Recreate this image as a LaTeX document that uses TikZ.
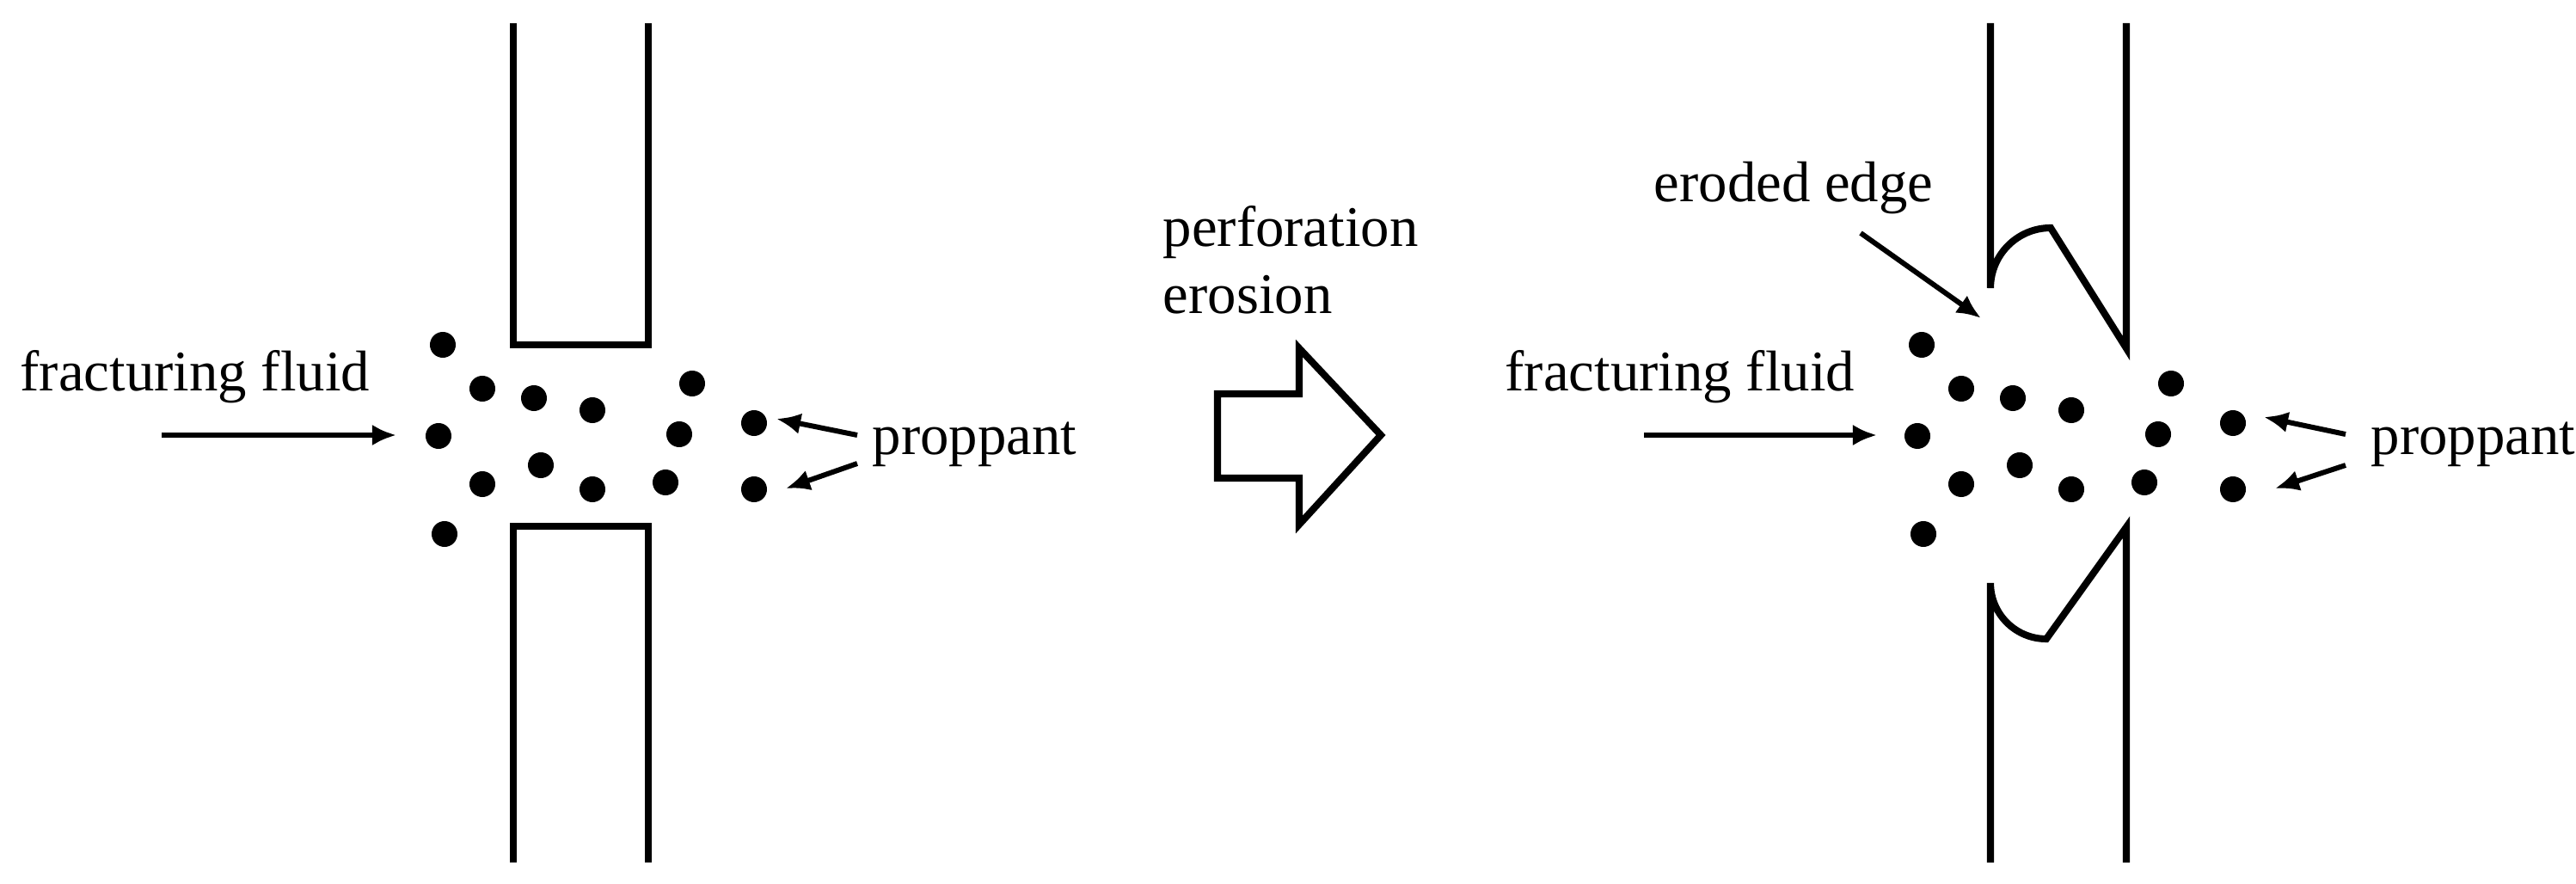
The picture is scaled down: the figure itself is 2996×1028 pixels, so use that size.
\documentclass[tikz,border=0pt]{standalone}
\usepackage{fontspec}
\setmainfont{Liberation Serif}
\usetikzlibrary{arrows.meta}
\begin{document}
\begin{tikzpicture}[x=0.01cm,y=-0.01cm,
  wall/.style={line width=2.3pt,line join=miter},
  pdot/.style={circle,fill=black,inner sep=0pt,minimum size=0.30cm},
  lbl/.style={anchor=base west,inner sep=0pt,font=\fontsize{19}{23}\selectfont},
  arr/.style={line width=1.7pt,-{Latex[length=8pt,width=7pt]}}]
\useasboundingbox (0,0) rectangle (2996,1028);
% left pipe
\draw[wall] (597,27) -- (597,401) -- (754,401) -- (754,27);
\draw[wall] (597,1003) -- (597,612) -- (754,612) -- (754,1003);
% right pipe (eroded)
\draw[wall] (2315,27) -- (2315,335) arc[start angle=180,end angle=270,radius=70] -- (2473,405) -- (2473,27);
\draw[wall] (2315,1003) -- (2315,678) arc[start angle=180,end angle=90,radius=65] -- (2473,613) -- (2473,1003);
% dots
\foreach \dx/\p in {0/a,1720/b}{
  \foreach \x/\y [count=\i] in {515/401,561/452,621/463,689/477,805/446,510/507,790/505,877/492,561/563,629/541,689/569,774/561,877/569,517/621}
    \node[pdot] (\p\i) at (\x+\dx,\y) {};
}
% labels
\node[lbl] (ff1) at (23,455) {fracturing fluid};
\node[lbl] (pr1) at (1014,529) {proppant};
\node[lbl] (pe) at (1352,287) {perforation};
\node[lbl] (er) at (1352,365) {erosion};
\node[lbl] (ee) at (1923,235) {eroded edge};
\node[lbl] (ff2) at (1750,455) {fracturing fluid};
\node[lbl] (pr2) at (2757,529) {proppant};
% arrows
\coordinate (f1s) at (188,506); \coordinate (f1e) at (461,506);
\draw[arr] (f1s) -- (f1e);
\coordinate (p1s) at (997,506); \coordinate (p1e) at (903,487);
\coordinate (p2s) at (997,539); \coordinate (p2e) at (914,568);
\draw[arr] (p1s) -- (p1e); \draw[arr] (p2s) -- (p2e);
\coordinate (f2s) at (1912,506); \coordinate (f2e) at (2183,506);
\draw[arr] (f2s) -- (f2e);
\coordinate (q1s) at (2728,505); \coordinate (q1e) at (2633,485);
\coordinate (q2s) at (2728,541); \coordinate (q2e) at (2646,568);
\draw[arr] (q1s) -- (q1e); \draw[arr] (q2s) -- (q2e);
\coordinate (es) at (2164,271); \coordinate (ep) at (2304,370);
\draw[arr] (es) -- (ep);
% block arrow
\draw[wall] (1416,458) -- (1511,458) -- (1511,405) -- (1606,506) -- (1511,610) -- (1511,556) -- (1416,556) -- cycle;
\end{tikzpicture}
\end{document}
